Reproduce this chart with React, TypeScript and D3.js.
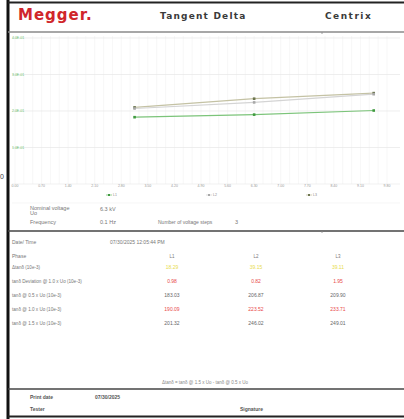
import React from 'react';
import * as d3 from 'd3';

// voltage steps (kV) and tan delta values (10e-3) per phase
const voltages = [3.15, 6.3, 9.45];
const seriesL1 = [183.03, 190.09, 201.32];
const seriesL2 = [206.87, 223.52, 246.02];
const seriesL3 = [209.9, 233.71, 249.01];
const phases = ['L1', 'L2', 'L3'];

const xTicks = [0, 0.7, 1.4, 2.1, 2.8, 3.5, 4.2, 4.9, 5.6, 6.3, 7.0, 7.7, 8.4, 9.1, 9.8];
const yTicks = [100, 200, 300, 400];
const yTickLabels = ['1.0E-01', '2.0E-01', '3.0E-01', '4.0E-01'];

const tableRows = [
  'Δtanδ (10e-3)',
  'tanδ Deviation @ 1.0 x Uo (10e-3)',
  'tanδ @ 0.5 x Uo (10e-3)',
  'tanδ @ 1.0 x Uo (10e-3)',
  'tanδ @ 1.5 x Uo (10e-3)',
];
const deltaTan = ['18.29', '39.15', '39.11'];
const deviation = ['0.98', '0.82', '1.95'];
const tan05 = ['183.03', '206.87', '209.90'];
const tan10 = ['190.09', '223.52', '233.71'];
const tan15 = ['201.32', '246.02', '249.01'];

const FONT = '"Liberation Sans", Arial, sans-serif';
const HEAD = '"DejaVu Sans", sans-serif';

const App = () => {
  const x = d3.scaleLinear().domain([0, 9.8]).range([15, 387]);
  const y = d3.scaleLinear().domain([0, 400]).range([184, 38]);

  const line = d3.line<number>()
    .x((_, i) => x(voltages[i]))
    .y(d => y(d));

  const series = [
    { name: 'L1', values: seriesL1, stroke: '#7cc47a', marker: '#3f9a3f' },
    { name: 'L2', values: seriesL2, stroke: '#d4d4d4', marker: '#a8a8a8' },
    { name: 'L3', values: seriesL3, stroke: '#c4c2a4', marker: '#6d7650' },
  ];

  // minor vertical grid, 3 per major tick
  const minor = d3.range(0, 9.8 + 0.001, 0.7 / 3);

  const rowValues = [deltaTan, deviation, tan05, tan10, tan15];
  const rowColors = ['#e8dc4c', '#e84848', '#666', '#e84848', '#666'];
  const rowY = [269, 283, 297, 311, 325];
  const colX = [172, 256, 338];

  return (
    <svg width={404} height={419} style={{ position: 'absolute', left: 0, top: 0, background: '#fff' }}
      fontFamily={FONT}>
      {/* page borders */}
      <rect x={0} y={0} width={404} height={419} fill="#fff" />
      <text x={0} y={179} fontSize={7} fill="#444">0</text>
      <line x1={8} x2={8} y1={0} y2={419} stroke="#111" strokeWidth={3} />
      <line x1={8} x2={404} y1={2.5} y2={2.5} stroke="#222" strokeWidth={2} />
      <line x1={8} x2={404} y1={416.5} y2={416.5} stroke="#222" strokeWidth={2} />

      {/* header */}
      <text x={18} y={20} fontSize={15} fontWeight="900" fill="#d0262b" fontFamily={HEAD}
        letterSpacing={1}>Megger.</text>
      <text x={160} y={19} fontSize={9} fontWeight="bold" fill="#3a3a3a" fontFamily={HEAD}
        letterSpacing={1.2}>Tangent Delta</text>
      <text x={325} y={19} fontSize={9} fontWeight="bold" fill="#3a3a3a" fontFamily={HEAD}
        letterSpacing={1.5}>Centrix</text>
      <line x1={8} x2={404} y1={32} y2={32} stroke="#8a8a8a" strokeWidth={1.5} />
      <line x1={322} x2={322} y1={32} y2={34} stroke="#8a8a8a" strokeWidth={0.8} />

      {/* chart grid */}
      {minor.map((v, i) => (
        <line key={'m' + i} x1={x(v)} x2={x(v)} y1={36} y2={184} stroke="#f1f1f1" strokeWidth={0.6} />
      ))}
      {yTicks.map(t => (
        <line key={'g' + t} x1={12} x2={400} y1={y(t)} y2={y(t)} stroke="#e6e6e6" strokeWidth={0.7} />
      ))}
      <line x1={12} x2={400} y1={184} y2={184} stroke="#e8e8e8" strokeWidth={0.6} />
      {yTicks.map((t, i) => (
        <text key={'yl' + t} x={12} y={y(t) + 1} fontSize={3.5} fill="#6cbf6a">{yTickLabels[i]}</text>
      ))}
      {xTicks.map(t => (
        <text key={'xl' + t} x={x(t)} y={187} fontSize={3.5} fill="#999" textAnchor="middle">{t.toFixed(2)}</text>
      ))}

      {/* series */}
      {series.slice().reverse().map(s => (
        <g key={s.name}>
          <path d={line(s.values) || ''} fill="none" stroke={s.stroke} strokeWidth={1.2} />
          {s.values.map((v, i) => (
            <rect key={i} x={x(voltages[i]) - 1.3} y={y(v) - 1.3} width={2.6} height={2.6} fill={s.marker} />
          ))}
        </g>
      ))}

      {/* legend */}
      {series.map((s, i) => (
        <g key={'lg' + s.name} transform={`translate(${108 + i * 100},195)`}>
          <line x1={-2} x2={4} y1={0} y2={0} stroke={s.stroke} strokeWidth={0.8} />
          <rect x={0} y={-1} width={2} height={2} fill={s.marker} />
          <text x={5} y={1.2} fontSize={3.5} fill="#888">{s.name}</text>
        </g>
      ))}
      <line x1={12} x2={400} y1={203} y2={203} stroke="#f0f0f0" strokeWidth={0.6} />

      {/* test settings */}
      <g fontSize={5.5} fill="#777">
        <text x={30} y={210}>Nominal voltage</text>
        <text x={30} y={215}>Uo</text>
        <text x={100} y={211}>6.3 kV</text>
        <text x={30} y={224}>Frequency</text>
        <text x={100} y={224}>0.1 Hz</text>
        <text x={158} y={224} fontSize={5}>Number of voltage steps</text>
        <text x={235} y={224}>3</text>
      </g>
      <line x1={8} x2={404} y1={231} y2={231} stroke="#444" strokeWidth={1.5} />
      <line x1={322} x2={322} y1={231} y2={233} stroke="#888" strokeWidth={0.8} />

      {/* results table */}
      <g fontSize={5} fill="#777">
        <text x={12} y={244}>Date/ Time</text>
        <text x={110} y={244}>07/30/2025 12:05:44 PM</text>
        <text x={12} y={258}>Phase</text>
        {phases.map((p, i) => (
          <text key={p} x={colX[i]} y={258} textAnchor="middle" fontSize={4.5}>{p}</text>
        ))}
        {tableRows.map((r, ri) => (
          <g key={r}>
            <text x={12} y={rowY[ri]} fontSize={4.6}>{r}</text>
            {rowValues[ri].map((v, ci) => (
              <text key={ci} x={colX[ci]} y={rowY[ri]} textAnchor="middle" fill={rowColors[ri]}>{v}</text>
            ))}
          </g>
        ))}
      </g>

      {/* footer */}
      <text x={205} y={384} fontSize={4.5} fill="#888" textAnchor="middle">Δtanδ = tanδ @ 1.5 x Uo - tanδ @ 0.5 x Uo</text>
      <line x1={8} x2={404} y1={389} y2={389} stroke="#444" strokeWidth={1.5} />
      <g fontSize={5} fill="#555" fontWeight="bold">
        <text x={30} y={399}>Print date</text>
        <text x={95} y={399}>07/30/2025</text>
        <text x={30} y={411}>Tester</text>
        <text x={240} y={411}>Signature</text>
      </g>
    </svg>
  );
};

export default App;
